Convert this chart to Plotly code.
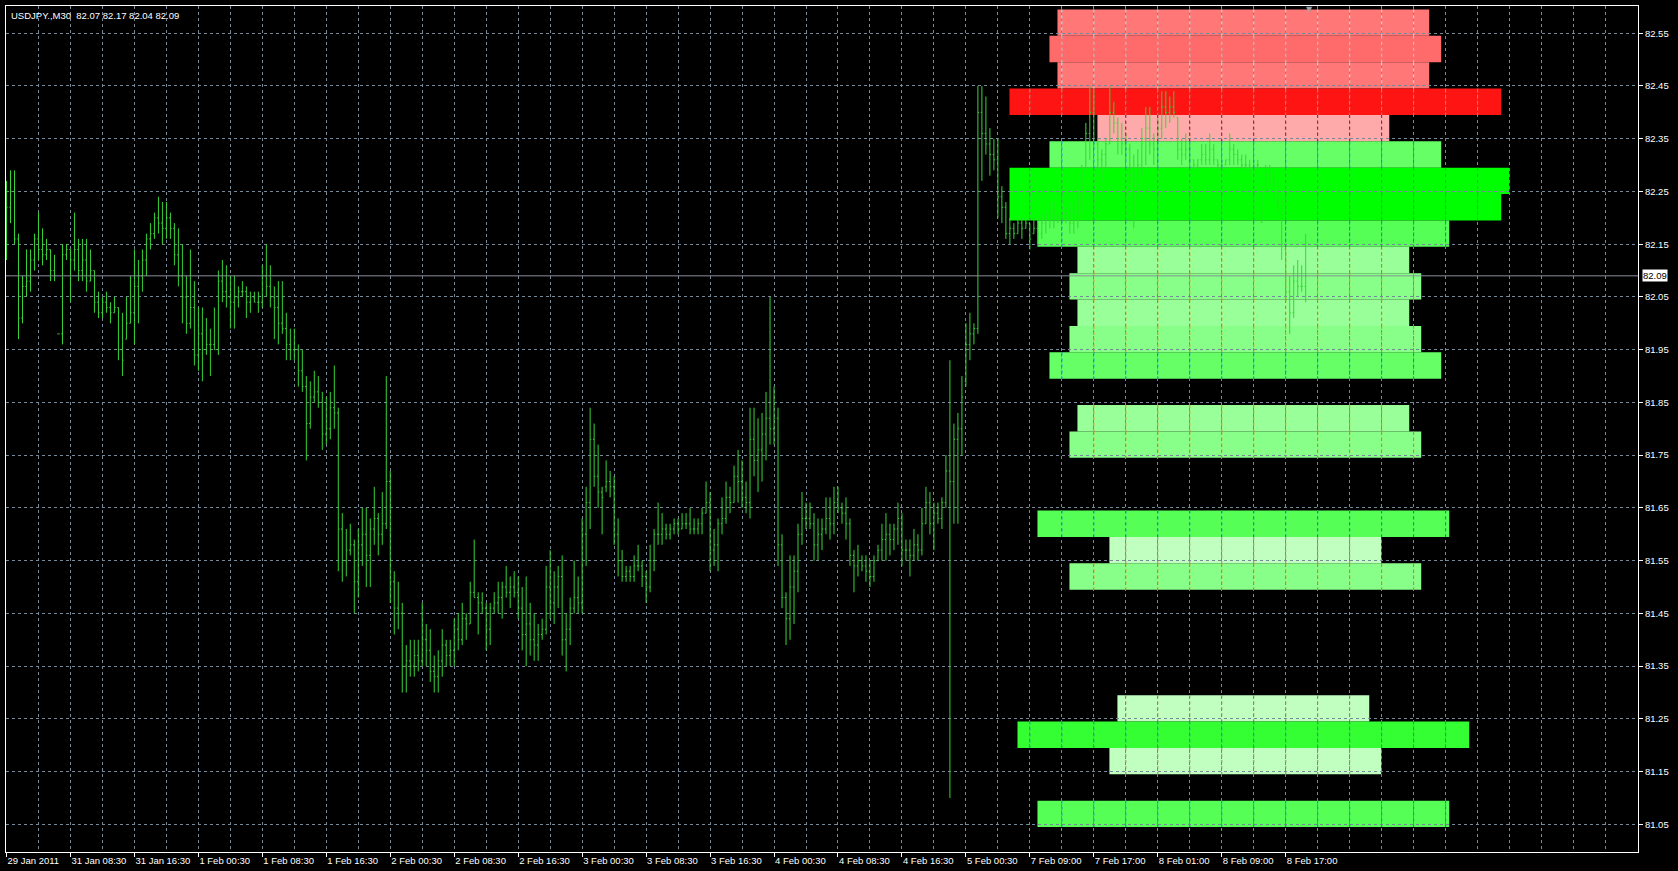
import plotly.graph_objects as go

# ---------------- data ----------------
bar_high = [
    82.27, 82.29, 82.29, 82.17, 82.09, 82.14, 82.14, 82.17, 82.21, 82.18,
    82.16, 82.14, 82.13, 81.98, 82.15, 82.15, 82.14, 82.21, 82.16, 82.16,
    82.16, 82.14, 82.10, 82.06, 82.05, 82.06, 82.04, 82.05, 82.03, 82.02,
    82.05, 82.09, 82.14, 82.12, 82.14, 82.17, 82.19, 82.21, 82.24, 82.23,
    82.23, 82.21, 82.19, 82.18, 82.15, 82.09, 82.14, 82.08, 82.03, 82.03,
    82.01, 81.99, 82.03, 82.10, 82.12, 82.11, 82.09, 82.09, 82.07, 82.08,
    82.07, 82.06, 82.06, 82.06, 82.11, 82.15, 82.11, 82.07, 82.08, 82.08,
    82.02, 81.99, 81.99, 81.96, 81.95, 81.90, 81.89, 81.91, 81.90, 81.87,
    81.86, 81.87, 81.92, 81.84, 81.64, 81.61, 81.62, 81.59, 81.61, 81.65,
    81.65, 81.63, 81.69, 81.64, 81.68, 81.90, 81.72, 81.53, 81.51, 81.47,
    81.39, 81.40, 81.40, 81.40, 81.47, 81.43, 81.42, 81.37, 81.38, 81.42,
    81.40, 81.40, 81.44, 81.45, 81.47, 81.45, 81.51, 81.59, 81.49, 81.49,
    81.47, 81.47, 81.49, 81.51, 81.51, 81.54, 81.52, 81.53, 81.52, 81.50,
    81.52, 81.47, 81.45, 81.43, 81.44, 81.54, 81.57, 81.53, 81.54, 81.56,
    81.45, 81.48, 81.55, 81.52, 81.63, 81.69, 81.84, 81.81, 81.77, 81.69,
    81.74, 81.72, 81.71, 81.63, 81.57, 81.54, 81.54, 81.56, 81.58, 81.55,
    81.53, 81.58, 81.61, 81.66, 81.64, 81.62, 81.62, 81.63, 81.63, 81.64,
    81.64, 81.65, 81.63, 81.63, 81.65, 81.70, 81.68, 81.61, 81.63, 81.67,
    81.70, 81.69, 81.73, 81.76, 81.74, 81.70, 81.84, 81.84, 81.82, 81.83,
    81.87, 82.05, 81.88, 81.84, 81.60, 81.49, 81.56, 81.56, 81.62, 81.68,
    81.66, 81.66, 81.64, 81.63, 81.63, 81.67, 81.67, 81.69, 81.69, 81.66,
    81.67, 81.63, 81.57, 81.58, 81.56, 81.56, 81.55, 81.56, 81.58, 81.62,
    81.64, 81.62, 81.62, 81.66, 81.64, 81.59, 81.59, 81.61, 81.60, 81.65,
    81.69, 81.68, 81.66, 81.66, 81.67, 81.75, 81.93, 81.81, 81.83, 81.90,
    82.00, 82.02, 82.00, 82.45, 82.45, 82.43, 82.37, 82.35, 82.35, 82.26,
    82.23, 82.20, 82.19, 82.20, 82.20, 82.20, 82.19, 82.20, 82.20, 82.21,
    82.21, 82.23, 82.23, 82.21, 82.23, 82.22, 82.23, 82.23, 82.25, 82.30,
    82.38, 82.45, 82.44, 82.35, 82.33, 82.35, 82.45, 82.42, 82.39, 82.38,
    82.36, 82.34, 82.32, 82.33, 82.37, 82.41, 82.41, 82.36, 82.39, 82.44,
    82.44, 82.43, 82.44, 82.39, 82.35, 82.36, 82.34, 82.31, 82.31, 82.34,
    82.34, 82.36, 82.34, 82.31, 82.31, 82.31, 82.36, 82.34, 82.33, 82.32,
    82.32, 82.31, 82.31, 82.31, 82.26, 82.30, 82.30, 82.29, 82.27, 82.24,
    82.14, 82.09, 82.11, 82.12, 82.11, 82.17,
]
bar_low = [
    82.12, 82.19, 82.15, 81.97, 82.00, 82.05, 82.06, 82.10, 82.12, 82.11,
    82.12, 82.08, 82.08, 81.98, 81.96, 82.12, 82.04, 82.10, 82.08, 82.08,
    82.06, 82.08, 82.02, 82.01, 82.01, 82.02, 82.00, 82.02, 81.93, 81.90,
    81.97, 82.00, 81.96, 82.00, 82.06, 82.09, 82.14, 82.16, 82.17, 82.15,
    82.16, 82.16, 82.11, 82.07, 82.00, 81.98, 81.99, 81.92, 81.91, 81.89,
    81.94, 81.90, 81.95, 81.94, 82.04, 82.03, 81.99, 81.99, 82.03, 82.05,
    82.01, 82.02, 82.04, 82.02, 82.03, 82.05, 82.03, 81.97, 81.96, 81.98,
    81.93, 81.93, 81.93, 81.88, 81.87, 81.74, 81.80, 81.85, 81.84, 81.76,
    81.77, 81.78, 81.80, 81.53, 81.51, 81.52, 81.56, 81.45, 81.48, 81.54,
    81.50, 81.50, 81.58, 81.56, 81.58, 81.61, 81.47, 81.41, 81.42, 81.30,
    81.30, 81.33, 81.33, 81.34, 81.35, 81.35, 81.32, 81.30, 81.30, 81.33,
    81.35, 81.35, 81.35, 81.38, 81.39, 81.40, 81.43, 81.48, 81.41, 81.45,
    81.38, 81.39, 81.45, 81.45, 81.44, 81.48, 81.46, 81.48, 81.44, 81.38,
    81.35, 81.37, 81.36, 81.36, 81.40, 81.41, 81.44, 81.43, 81.46, 81.37,
    81.34, 81.39, 81.45, 81.45, 81.45, 81.54, 81.61, 81.69, 81.65, 81.60,
    81.68, 81.67, 81.58, 81.52, 81.51, 81.51, 81.51, 81.51, 81.53, 81.50,
    81.47, 81.49, 81.53, 81.58, 81.58, 81.59, 81.59, 81.60, 81.60, 81.61,
    81.61, 81.60, 81.60, 81.60, 81.60, 81.64, 81.53, 81.54, 81.53, 81.60,
    81.62, 81.64, 81.66, 81.66, 81.65, 81.64, 81.63, 81.71, 81.68, 81.70,
    81.74, 81.77, 81.77, 81.54, 81.46, 81.39, 81.40, 81.43, 81.49, 81.58,
    81.61, 81.61, 81.55, 81.55, 81.57, 81.60, 81.59, 81.60, 81.64, 81.62,
    81.59, 81.54, 81.49, 81.52, 81.53, 81.51, 81.50, 81.51, 81.55, 81.55,
    81.55, 81.56, 81.57, 81.58, 81.54, 81.55, 81.52, 81.55, 81.55, 81.56,
    81.62, 81.60, 81.57, 81.62, 81.61, 81.65, 81.10, 81.62, 81.62, 81.75,
    81.88, 81.93, 81.96, 81.98, 82.27, 82.32, 82.28, 82.29, 82.20, 82.19,
    82.16, 82.15, 82.16, 82.17, 82.16, 82.18, 82.14, 82.17, 82.15, 82.16,
    82.17, 82.18, 82.18, 82.19, 82.19, 82.19, 82.17, 82.17, 82.18, 82.21,
    82.29, 82.31, 82.33, 82.29, 82.27, 82.29, 82.34, 82.36, 82.32, 82.32,
    82.31, 82.25, 82.18, 82.24, 82.28, 82.30, 82.32, 82.30, 82.30, 82.35,
    82.37, 82.38, 82.39, 82.31, 82.30, 82.31, 82.30, 82.29, 82.29, 82.30,
    82.30, 82.30, 82.30, 82.29, 82.29, 82.30, 82.30, 82.30, 82.30, 82.29,
    82.29, 82.28, 82.29, 82.29, 82.19, 82.25, 82.26, 82.23, 82.21, 82.12,
    82.04, 81.98, 82.01, 82.05, 82.06, 82.04,
]
bar_close = [
    82.22, 82.25, 82.16, 82.01, 82.07, 82.08, 82.12, 82.16, 82.14, 82.13,
    82.14, 82.10, 82.09, 81.98, 82.13, 82.14, 82.12, 82.14, 82.10, 82.12,
    82.08, 82.10, 82.04, 82.02, 82.04, 82.03, 82.02, 82.03, 81.95, 81.93,
    82.00, 82.02, 82.07, 82.09, 82.12, 82.16, 82.17, 82.20, 82.19, 82.18,
    82.20, 82.18, 82.13, 82.09, 82.05, 82.00, 82.03, 81.94, 81.98, 81.95,
    81.96, 81.96, 81.95, 82.08, 82.06, 82.05, 82.04, 82.05, 82.06, 82.06,
    82.04, 82.05, 82.04, 82.04, 82.09, 82.07, 82.05, 82.03, 82.00, 81.99,
    81.96, 81.95, 81.95, 81.91, 81.88, 81.81, 81.86, 81.87, 81.85, 81.79,
    81.80, 81.84, 81.83, 81.61, 81.55, 81.57, 81.58, 81.51, 81.58, 81.60,
    81.56, 81.61, 81.63, 81.60, 81.62, 81.70, 81.51, 81.46, 81.45, 81.35,
    81.36, 81.35, 81.37, 81.36, 81.40, 81.38, 81.34, 81.33, 81.36, 81.39,
    81.37, 81.38, 81.42, 81.40, 81.44, 81.43, 81.49, 81.48, 81.47, 81.46,
    81.42, 81.46, 81.47, 81.48, 81.50, 81.49, 81.50, 81.49, 81.46, 81.41,
    81.43, 81.40, 81.39, 81.41, 81.42, 81.50, 81.47, 81.50, 81.52, 81.40,
    81.42, 81.46, 81.48, 81.47, 81.60, 81.66, 81.78, 81.71, 81.68, 81.67,
    81.70, 81.69, 81.60, 81.55, 81.52, 81.53, 81.52, 81.54, 81.54, 81.52,
    81.50, 81.55, 81.60, 81.60, 81.61, 81.60, 81.61, 81.62, 81.61, 81.62,
    81.62, 81.61, 81.61, 81.62, 81.64, 81.66, 81.57, 81.58, 81.62, 81.63,
    81.67, 81.66, 81.71, 81.70, 81.67, 81.66, 81.78, 81.74, 81.76, 81.79,
    81.82, 81.80, 81.82, 81.58, 81.48, 81.44, 81.50, 81.53, 81.60, 81.63,
    81.63, 81.62, 81.58, 81.60, 81.61, 81.63, 81.62, 81.66, 81.65, 81.64,
    81.62, 81.56, 81.54, 81.55, 81.54, 81.53, 81.52, 81.55, 81.57, 81.59,
    81.60, 81.59, 81.61, 81.63, 81.57, 81.57, 81.56, 81.58, 81.57, 81.62,
    81.66, 81.62, 81.64, 81.63, 81.66, 81.72, 81.70, 81.78, 81.80, 81.86,
    81.96, 81.98, 81.99, 82.40, 82.36, 82.34, 82.32, 82.31, 82.24, 82.22,
    82.17, 82.18, 82.17, 82.19, 82.18, 82.19, 82.16, 82.18, 82.17, 82.19,
    82.20, 82.21, 82.20, 82.20, 82.21, 82.20, 82.19, 82.21, 82.23, 82.28,
    82.36, 82.40, 82.34, 82.31, 82.32, 82.34, 82.40, 82.38, 82.35, 82.34,
    82.33, 82.28, 82.26, 82.30, 82.35, 82.37, 82.34, 82.33, 82.37, 82.41,
    82.40, 82.41, 82.40, 82.33, 82.32, 82.33, 82.31, 82.30, 82.31, 82.32,
    82.31, 82.33, 82.31, 82.30, 82.30, 82.31, 82.33, 82.32, 82.31, 82.30,
    82.30, 82.29, 82.30, 82.30, 82.25, 82.28, 82.27, 82.25, 82.23, 82.15,
    82.06, 82.02, 82.08, 82.07, 82.07, 82.09,
]
bar_open = [
    82.20, 82.22, 82.25, 82.16, 82.01, 82.07, 82.08, 82.12, 82.16, 82.14,
    82.13, 82.14, 82.10, 81.98, 81.98, 82.13, 82.14, 82.12, 82.14, 82.10,
    82.12, 82.08, 82.10, 82.04, 82.02, 82.04, 82.03, 82.02, 82.03, 81.95,
    81.97, 82.00, 82.02, 82.07, 82.09, 82.12, 82.16, 82.17, 82.20, 82.19,
    82.18, 82.20, 82.18, 82.13, 82.09, 82.05, 82.00, 82.03, 81.94, 81.98,
    81.95, 81.96, 81.96, 81.95, 82.08, 82.06, 82.05, 82.04, 82.05, 82.06,
    82.06, 82.04, 82.05, 82.04, 82.04, 82.09, 82.07, 82.05, 82.03, 82.00,
    81.99, 81.96, 81.95, 81.95, 81.91, 81.88, 81.81, 81.86, 81.87, 81.85,
    81.79, 81.80, 81.84, 81.83, 81.61, 81.55, 81.57, 81.58, 81.51, 81.58,
    81.60, 81.56, 81.61, 81.63, 81.60, 81.62, 81.70, 81.51, 81.46, 81.45,
    81.35, 81.36, 81.35, 81.37, 81.36, 81.40, 81.38, 81.34, 81.33, 81.36,
    81.39, 81.37, 81.38, 81.42, 81.40, 81.44, 81.43, 81.49, 81.48, 81.47,
    81.46, 81.42, 81.46, 81.47, 81.48, 81.50, 81.49, 81.50, 81.49, 81.46,
    81.41, 81.43, 81.40, 81.39, 81.41, 81.42, 81.50, 81.47, 81.50, 81.52,
    81.40, 81.42, 81.46, 81.48, 81.47, 81.60, 81.66, 81.78, 81.71, 81.68,
    81.69, 81.70, 81.69, 81.60, 81.55, 81.52, 81.53, 81.52, 81.54, 81.54,
    81.52, 81.50, 81.55, 81.60, 81.60, 81.61, 81.60, 81.61, 81.62, 81.61,
    81.62, 81.62, 81.61, 81.61, 81.62, 81.64, 81.66, 81.57, 81.58, 81.62,
    81.63, 81.67, 81.66, 81.71, 81.70, 81.67, 81.66, 81.78, 81.74, 81.76,
    81.79, 81.82, 81.80, 81.82, 81.58, 81.48, 81.44, 81.50, 81.53, 81.60,
    81.63, 81.63, 81.62, 81.58, 81.60, 81.61, 81.63, 81.62, 81.66, 81.65,
    81.64, 81.62, 81.56, 81.54, 81.55, 81.54, 81.53, 81.52, 81.55, 81.57,
    81.59, 81.60, 81.59, 81.61, 81.63, 81.57, 81.57, 81.56, 81.58, 81.57,
    81.62, 81.66, 81.62, 81.64, 81.63, 81.66, 81.72, 81.70, 81.78, 81.80,
    81.89, 81.96, 81.98, 81.99, 82.40, 82.36, 82.34, 82.32, 82.31, 82.24,
    82.22, 82.17, 82.18, 82.17, 82.19, 82.18, 82.19, 82.17, 82.18, 82.17,
    82.19, 82.20, 82.21, 82.20, 82.20, 82.21, 82.20, 82.19, 82.21, 82.23,
    82.29, 82.36, 82.40, 82.34, 82.31, 82.32, 82.34, 82.40, 82.38, 82.35,
    82.34, 82.33, 82.28, 82.26, 82.30, 82.35, 82.37, 82.34, 82.33, 82.37,
    82.41, 82.40, 82.41, 82.39, 82.33, 82.32, 82.33, 82.31, 82.30, 82.31,
    82.32, 82.31, 82.33, 82.31, 82.30, 82.30, 82.31, 82.33, 82.32, 82.31,
    82.30, 82.30, 82.29, 82.30, 82.26, 82.25, 82.28, 82.27, 82.25, 82.23,
    82.14, 82.06, 82.02, 82.08, 82.07, 82.07,
]

x_tick_labels = [
    "29 Jan 2011", "31 Jan 08:30", "31 Jan 16:30", "1 Feb 00:30", "1 Feb 08:30",
    "1 Feb 16:30", "2 Feb 00:30", "2 Feb 08:30", "2 Feb 16:30", "3 Feb 00:30",
    "3 Feb 08:30", "3 Feb 16:30", "4 Feb 00:30", "4 Feb 08:30", "4 Feb 16:30",
    "5 Feb 00:30", "7 Feb 09:00", "7 Feb 17:00", "8 Feb 01:00", "8 Feb 09:00",
    "8 Feb 17:00",
]
bars_per_label = 16
bars_per_grid = 8

y_ticks = [81.05, 81.15, 81.25, 81.35, 81.45, 81.55, 81.65, 81.75,
           81.85, 81.95, 82.05, 82.15, 82.25, 82.35, 82.45, 82.55]

# volume-profile rectangles (price bin low edge, bin height, left/right in bar units, colour)
prof_low = [82.545, 82.495, 82.445, 82.395, 82.345, 82.295, 82.245, 82.195,
            82.145, 82.095, 82.045, 81.995, 81.945, 81.895, 81.795, 81.745,
            81.595, 81.545, 81.495, 81.245, 81.195, 81.145, 81.045]
prof_left = [262.9, 260.9, 262.9, 250.9, 272.9, 260.9, 250.9, 250.9,
             257.9, 267.9, 265.9, 267.9, 265.9, 260.9, 267.9, 265.9,
             257.9, 275.9, 265.9, 277.9, 252.9, 275.9, 257.9]
prof_right = [355.9, 358.9, 355.9, 373.9, 345.9, 358.9, 375.9, 373.9,
              360.9, 350.9, 353.9, 350.9, 353.9, 358.9, 350.9, 353.9,
              360.9, 343.9, 353.9, 340.9, 365.9, 343.9, 360.9]
prof_color = ["#FF7777", "#FF6B6B", "#FF7777", "#FF1414", "#FFAAAA", "#66FF66",
              "#00FF00", "#00FF00", "#55FF55", "#99FF99", "#88FF88", "#99FF99",
              "#88FF88", "#66FF66", "#99FF99", "#88FF88", "#55FF55", "#C0FFC0",
              "#88FF88", "#C0FFC0", "#33FF33", "#C0FFC0", "#55FF55"]
bin_height = 0.05

last_price = 82.09
title_text = "USDJPY.,M30  82.07 82.17 82.04 82.09"

# ---------------- style ----------------
W, H = 1678, 871
BG = "#000000"
GRID_RGB = (119, 136, 153)          # LightSlateGray grid
GRID = "#%02x%02x%02x" % GRID_RGB
BAR_GREEN = "#38d438"
FONT = "Liberation Sans"
FS = 9.5
DASH = "3px,3px"


def xor_with_grid(hex_color):
    h = hex_color.lstrip("#")
    rgb = [int(h[i:i + 2], 16) for i in (0, 2, 4)]
    return "#%02x%02x%02x" % tuple(c ^ g for c, g in zip(rgb, GRID_RGB))


n = len(bar_close)
xs = list(range(n))

fig = go.Figure()

# profile rectangles (below the grid)
for lo, l, r, c in zip(prof_low, prof_left, prof_right, prof_color):
    fig.add_shape(type="rect", xref="x", yref="y", x0=l, x1=r, y0=lo, y1=lo + bin_height,
                  fillcolor=c, line=dict(width=0), layer="below")

# vertical grid lines re-coloured where they cross a rectangle (XOR-style, like the terminal)
segs = {}
for lo, l, r, c in zip(prof_low, prof_left, prof_right, prof_color):
    col = xor_with_grid(c)
    gx = (int(l) // bars_per_grid + 1) * bars_per_grid
    while gx < r:
        sx, sy = segs.setdefault(col, ([], []))
        sx += [gx, gx, None]
        sy += [lo + bin_height, lo, None]
        gx += bars_per_grid
for col, (sx, sy) in segs.items():
    fig.add_trace(go.Scatter(x=sx, y=sy, mode="lines", line=dict(color=col, width=1, dash=DASH),
                             hoverinfo="skip", showlegend=False))

fig.add_trace(go.Ohlc(
    x=xs, open=bar_open, high=bar_high, low=bar_low, close=bar_close,
    increasing=dict(line=dict(color=BAR_GREEN, width=1)),
    decreasing=dict(line=dict(color=BAR_GREEN, width=1)),
    tickwidth=0.3, hoverinfo="none", showlegend=False,
))

# current price line
fig.add_shape(type="line", xref="paper", yref="y", x0=0, x1=1, y0=last_price, y1=last_price,
              line=dict(color="#8a8f99", width=1), layer="above")
fig.add_annotation(xref="paper", yref="y", x=1, y=last_price, xanchor="left", yanchor="middle",
                   xshift=4, text=f"{last_price:.2f}", showarrow=False,
                   font=dict(family=FONT, size=FS, color="#000000"), bgcolor="#ffffff", borderpad=0)

# title
fig.add_annotation(xref="paper", yref="paper", x=0, y=1, xanchor="left", yanchor="top",
                   xshift=3, yshift=-2, text=title_text, showarrow=False,
                   font=dict(family=FONT, size=FS, color="#ffffff"))

# chart-shift marker
fig.add_annotation(xref="x", yref="paper", x=n, y=1, xanchor="center", yanchor="top",
                   yshift=3, text="▼", showarrow=False,
                   font=dict(family="DejaVu Sans", size=8, color="#a0a0a0"))

tick_pos = [bars_per_label * k for k in range(len(x_tick_labels))]

fig.update_layout(
    width=W, height=H,
    margin=dict(l=5, r=40, t=5, b=18),
    paper_bgcolor=BG, plot_bgcolor=BG,
    showlegend=False,
    xaxis=dict(
        range=[-0.125, 408.125], rangeslider=dict(visible=False),
        tickmode="array", tickvals=tick_pos, ticktext=x_tick_labels,
        ticks="outside", ticklen=4, tickcolor="#ffffff", tickwidth=1,
        ticklabelposition="outside right",
        tickfont=dict(family=FONT, size=FS, color="#ffffff"),
        showgrid=True, gridcolor=GRID, griddash=DASH, gridwidth=1,
        minor=dict(dtick=bars_per_grid, tick0=0, showgrid=True, gridcolor=GRID,
                   griddash=DASH, gridwidth=1, ticks=""),
        showline=True, linecolor="#ffffff", linewidth=1, mirror=True,
        zeroline=False, fixedrange=True,
    ),
    yaxis=dict(
        range=[80.9976, 82.6016], side="right",
        tickmode="array", tickvals=y_ticks, ticktext=[f"{v:.2f}" for v in y_ticks],
        ticks="outside", ticklen=4, tickcolor="#ffffff", tickwidth=1,
        tickfont=dict(family=FONT, size=FS, color="#ffffff"),
        showgrid=True, gridcolor=GRID, griddash=DASH, gridwidth=1,
        showline=True, linecolor="#ffffff", linewidth=1, mirror=True,
        zeroline=False, fixedrange=True,
    ),
)

fig.write_html("out.html", config={"displayModeBar": False},
               post_script="document.body.style.margin='0';document.body.style.overflow='hidden';")
